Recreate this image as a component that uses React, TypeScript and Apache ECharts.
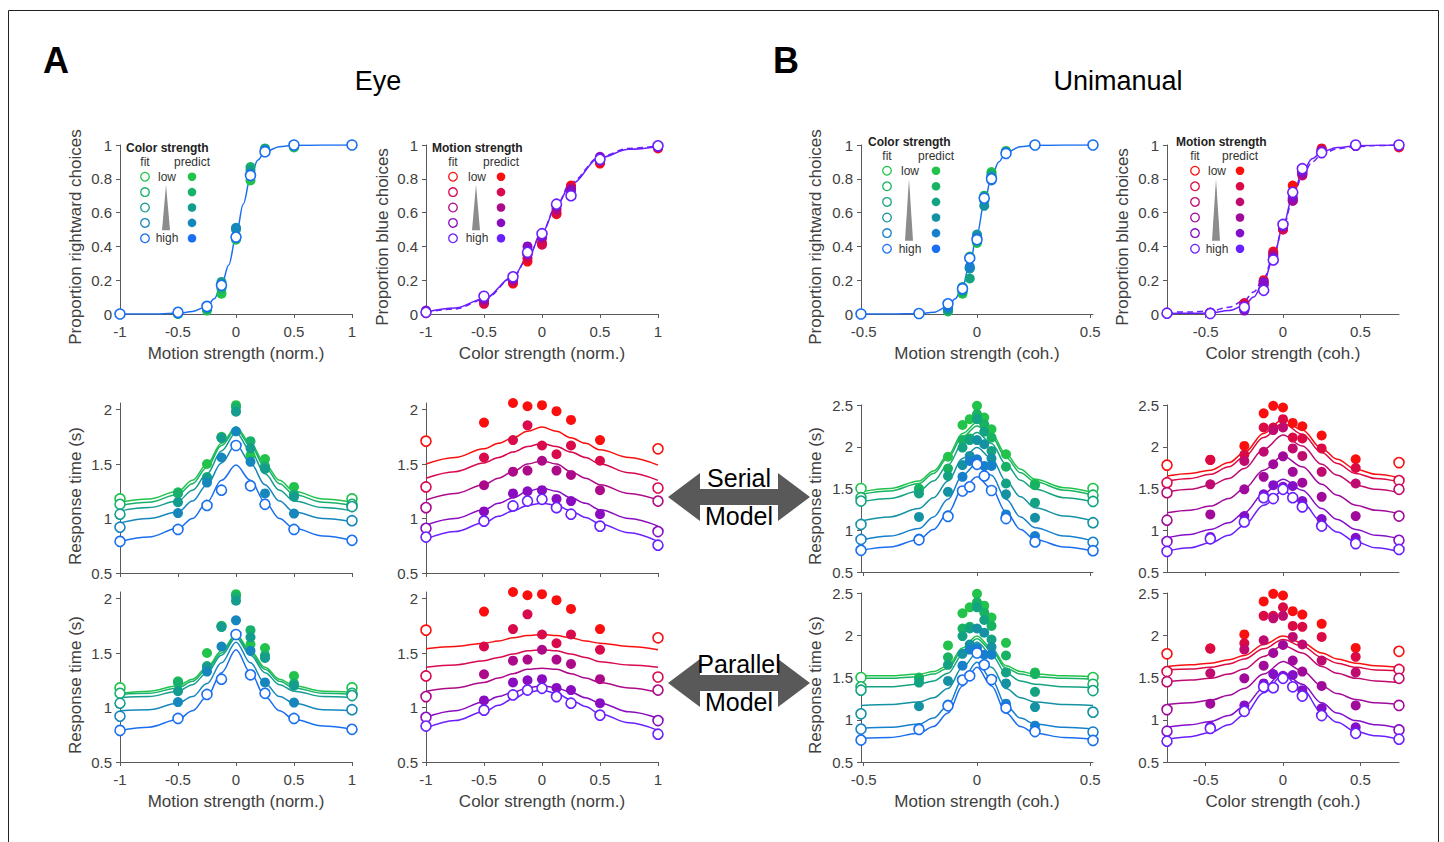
import React, { useEffect, useRef } from 'react';
import * as echarts from 'echarts';

const FONT = "'Liberation Sans', Arial, Helvetica, sans-serif";
const AXC = '#5a5a5a';
const TXC = '#404040';

// ---------- colours ----------
const GB5 = ['#21c34b', '#17b06c', '#149c8f', '#1687bd', '#1a6ff0'];
const GB6 = ['#21c34b', '#18b362', '#14a382', '#1492a3', '#1780cc', '#1a6ff0'];
const RP5 = ['#fa0f0f', '#d80a4c', '#ad0a8a', '#8a0cc0', '#6a1fff'];
const RP6 = ['#fa0f0f', '#dc0a44', '#bf0a70', '#a00a9a', '#840fc8', '#6a1fff'];

// ---------- x levels ----------
const XA = [-1, -0.5, -0.25, -0.125, 0, 0.125, 0.25, 0.5, 1];
const XBM = [-0.512, -0.256, -0.128, -0.064, -0.032, 0, 0.032, 0.064, 0.128, 0.256, 0.512];
const XBC = [-0.75, -0.47, -0.25, -0.125, -0.063, 0, 0.063, 0.125, 0.25, 0.47, 0.75];

// ---------- choice data ----------
const A_CH_MOT = [
  [0, 0.0, 0.02, 0.12, 0.44, 0.79, 0.97, 0.985, 1],
  [0, 0.002, 0.03, 0.15, 0.45, 0.87, 0.98, 0.99, 1],
  [0, 0.003, 0.035, 0.19, 0.5, 0.85, 0.975, 0.995, 1],
  [0, 0.004, 0.04, 0.17, 0.51, 0.83, 0.97, 1.0, 1],
  [0, 0.01, 0.045, 0.17, 0.455, 0.82, 0.96, 1.0, 1],
];
const A_CH_COL = [
  [0.005, 0.07, 0.18, 0.31, 0.42, 0.59, 0.76, 0.89, 0.98],
  [0.01, 0.06, 0.19, 0.33, 0.41, 0.6, 0.75, 0.9, 0.985],
  [0.015, 0.08, 0.2, 0.35, 0.45, 0.62, 0.74, 0.92, 0.99],
  [0.02, 0.09, 0.21, 0.4, 0.46, 0.64, 0.73, 0.93, 0.99],
  [0.01, 0.105, 0.22, 0.365, 0.475, 0.65, 0.7, 0.915, 0.995],
];
const B_CH_MOT = [
  [0, 0, 0.015, 0.12, 0.34, 0.42, 0.67, 0.84, 0.965, 1, 1],
  [0, 0, 0.02, 0.13, 0.27, 0.43, 0.7, 0.83, 0.96, 1, 1],
  [0, 0, 0.025, 0.16, 0.21, 0.46, 0.69, 0.82, 0.955, 1, 1],
  [0, 0, 0.03, 0.14, 0.27, 0.47, 0.64, 0.81, 0.96, 1, 1],
  [0, 0, 0.04, 0.155, 0.28, 0.45, 0.68, 0.79, 0.95, 1, 1],
  [0, 0.003, 0.06, 0.15, 0.33, 0.44, 0.685, 0.8, 0.95, 1, 1],
];
const B_CH_COL = [
  [0.005, 0.005, 0.06, 0.2, 0.37, 0.5, 0.76, 0.83, 0.98, 0.995, 0.985],
  [0.005, 0.006, 0.065, 0.19, 0.36, 0.5, 0.68, 0.84, 0.975, 0.995, 0.99],
  [0.005, 0.007, 0.05, 0.18, 0.35, 0.51, 0.67, 0.82, 0.97, 0.995, 0.995],
  [0.005, 0.008, 0.03, 0.17, 0.34, 0.52, 0.67, 0.83, 0.96, 0.995, 1],
  [0.005, 0.009, 0.02, 0.19, 0.33, 0.52, 0.69, 0.84, 0.96, 0.995, 1],
  [0.005, 0.003, 0.04, 0.14, 0.32, 0.53, 0.72, 0.86, 0.955, 1, 1],
];

// ---------- choice fits ----------
const CHX_A1 = [-1, -0.75, -0.5, -0.375, -0.25, -0.1875, -0.125, -0.0625, 0, 0.0625, 0.125, 0.1875, 0.25, 0.375, 0.5, 0.75, 1];
const CHY_A1 = [0, 0, 0.004, 0.015, 0.045, 0.09, 0.17, 0.29, 0.46, 0.65, 0.81, 0.91, 0.96, 0.99, 0.998, 1, 1];
const CHX_A2 = [-1, -0.75, -0.5, -0.25, -0.125, 0, 0.125, 0.25, 0.5, 0.75, 1];
const CHY_A2 = [0.012, 0.035, 0.09, 0.22, 0.33, 0.48, 0.64, 0.77, 0.925, 0.975, 0.99];
const CHY_A2_D = [0.01, 0.03, 0.085, 0.215, 0.33, 0.485, 0.645, 0.78, 0.93, 0.98, 0.995];
const CHX_B1 = [-0.512, -0.384, -0.256, -0.192, -0.128, -0.096, -0.064, -0.032, 0, 0.032, 0.064, 0.096, 0.128, 0.192, 0.256, 0.384, 0.512];
const CHY_B1 = [0, 0, 0.002, 0.01, 0.045, 0.09, 0.16, 0.3, 0.47, 0.66, 0.81, 0.9, 0.955, 0.99, 0.998, 1, 1];
const CHX_B2 = [-0.75, -0.6, -0.47, -0.35, -0.25, -0.19, -0.125, -0.063, 0, 0.063, 0.125, 0.19, 0.25, 0.35, 0.47, 0.6, 0.75];
const CHY_B2 = [0.003, 0.004, 0.006, 0.02, 0.05, 0.1, 0.19, 0.33, 0.52, 0.7, 0.84, 0.92, 0.96, 0.985, 0.995, 0.999, 1];
const CHY_B2_D = [0.01, 0.012, 0.018, 0.04, 0.08, 0.13, 0.21, 0.34, 0.51, 0.68, 0.82, 0.9, 0.945, 0.978, 0.99, 0.997, 1];

// ---------- RT data ----------
const A_RT_MOT = [
  [1.18, 1.24, 1.5, 1.75, 2.04, 1.58, 1.545, 1.29, 1.18],
  [1.13, 1.23, 1.38, 1.74, 2.02, 1.71, 1.48, 1.22, 1.13],
  [1.04, 1.15, 1.37, 1.74, 1.98, 1.645, 1.455, 1.2, 1.11],
  [0.92, 1.05, 1.33, 1.56, 1.8, 1.52, 1.23, 1.045, 0.98],
  [0.79, 0.9, 1.12, 1.26, 1.67, 1.3, 1.13, 0.9, 0.8],
];
const A_RT_COL = [
  [1.71, 1.88, 2.06, 2.03, 2.04, 1.985, 1.905, 1.72, 1.64],
  [1.29, 1.56, 1.72, 1.855, 1.67, 1.59, 1.67, 1.53, 1.28],
  [1.1, 1.305, 1.43, 1.44, 1.53, 1.44, 1.4, 1.26, 1.16],
  [0.91, 1.065, 1.23, 1.25, 1.26, 1.18, 1.16, 1.04, 0.88],
  [0.83, 0.976, 1.115, 1.16, 1.176, 1.1, 1.04, 0.93, 0.755],
];
const B_RT_MOT = [
  [1.5, 1.5, 1.88, 2.26, 2.33, 2.49, 2.35, 2.21, 1.91, 1.56, 1.5],
  [1.39, 1.49, 1.74, 2.08, 2.1, 2.39, 2.27, 2.11, 1.76, 1.54, 1.42],
  [1.35, 1.44, 1.65, 1.99, 2.08, 2.33, 2.18, 1.95, 1.56, 1.33, 1.345],
  [1.07, 1.16, 1.46, 1.78, 1.89, 2.08, 2.03, 1.86, 1.43, 1.15, 1.09],
  [0.89, 0.9, 1.18, 1.64, 1.83, 1.85, 1.77, 1.77, 1.19, 0.93, 0.855],
  [0.76, 0.886, 1.165, 1.47, 1.52, 1.79, 1.65, 1.476, 1.14, 0.86, 0.755],
];
const B_RT_COL = [
  [1.78, 1.845, 2.01, 2.4, 2.49, 2.47, 2.285, 2.245, 2.135, 1.85, 1.81],
  [1.57, 1.84, 1.905, 2.23, 2.23, 2.33, 2.11, 2.1, 1.98, 1.745, 1.595],
  [1.45, 1.55, 1.83, 1.94, 2.2, 2.23, 1.98, 1.89, 1.7, 1.56, 1.49],
  [1.12, 1.19, 1.49, 1.64, 1.79, 1.885, 1.7, 1.57, 1.4, 1.17, 1.17],
  [0.865, 0.92, 1.17, 1.43, 1.54, 1.52, 1.53, 1.35, 1.135, 0.91, 0.88],
  [0.746, 0.897, 1.1, 1.39, 1.38, 1.49, 1.39, 1.28, 1.05, 0.84, 0.77],
];

// ---------- RT fits ----------
const CX_A = [-1, -0.75, -0.5, -0.375, -0.25, -0.125, 0, 0.125, 0.25, 0.375, 0.5, 0.75, 1];
const CX_BM = [-0.512, -0.384, -0.256, -0.192, -0.128, -0.064, 0, 0.064, 0.128, 0.192, 0.256, 0.384, 0.512];
const CX_BC = [-0.75, -0.6, -0.47, -0.35, -0.25, -0.125, 0, 0.125, 0.25, 0.35, 0.47, 0.6, 0.75];

const SER_A_MOT = [
  [1.15, 1.18, 1.25, 1.35, 1.5, 1.69, 1.84, 1.69, 1.5, 1.35, 1.25, 1.18, 1.15],
  [1.12, 1.15, 1.22, 1.32, 1.47, 1.67, 1.82, 1.67, 1.47, 1.32, 1.22, 1.15, 1.12],
  [1.07, 1.1, 1.16, 1.26, 1.41, 1.62, 1.79, 1.62, 1.41, 1.26, 1.16, 1.1, 1.07],
  [0.96, 1.0, 1.06, 1.16, 1.31, 1.51, 1.68, 1.51, 1.31, 1.16, 1.06, 1.0, 0.97],
  [0.79, 0.83, 0.91, 1.0, 1.15, 1.35, 1.49, 1.35, 1.15, 1.0, 0.91, 0.84, 0.8],
];
const PAR_A_MOT = [
  [1.13, 1.15, 1.2, 1.26, 1.37, 1.52, 1.67, 1.52, 1.37, 1.26, 1.2, 1.15, 1.14],
  [1.12, 1.13, 1.18, 1.24, 1.35, 1.5, 1.66, 1.5, 1.35, 1.24, 1.18, 1.13, 1.12],
  [1.09, 1.1, 1.15, 1.21, 1.32, 1.48, 1.64, 1.48, 1.32, 1.21, 1.15, 1.1, 1.09],
  [0.97, 0.98, 1.04, 1.1, 1.22, 1.41, 1.6, 1.41, 1.22, 1.1, 1.04, 0.98, 0.97],
  [0.79, 0.82, 0.89, 0.97, 1.1, 1.32, 1.53, 1.32, 1.1, 0.97, 0.89, 0.83, 0.8],
];
const SER_A_COL = [
  [1.5, 1.56, 1.64, 1.69, 1.74, 1.8, 1.84, 1.8, 1.74, 1.69, 1.63, 1.56, 1.49],
  [1.37, 1.43, 1.51, 1.56, 1.61, 1.66, 1.69, 1.66, 1.61, 1.56, 1.5, 1.42, 1.35],
  [1.17, 1.23, 1.31, 1.37, 1.43, 1.5, 1.53, 1.5, 1.43, 1.37, 1.31, 1.23, 1.17],
  [0.94, 1.0, 1.08, 1.14, 1.19, 1.25, 1.28, 1.25, 1.19, 1.14, 1.08, 1.0, 0.93],
  [0.81, 0.88, 0.96, 1.02, 1.07, 1.12, 1.14, 1.12, 1.07, 1.01, 0.95, 0.87, 0.79],
];
const PAR_A_COL = [
  [1.54, 1.56, 1.59, 1.61, 1.64, 1.66, 1.67, 1.66, 1.64, 1.61, 1.59, 1.56, 1.53],
  [1.37, 1.39, 1.43, 1.46, 1.49, 1.52, 1.53, 1.52, 1.49, 1.46, 1.42, 1.39, 1.37],
  [1.15, 1.18, 1.23, 1.27, 1.31, 1.35, 1.36, 1.35, 1.31, 1.27, 1.23, 1.18, 1.14],
  [0.91, 0.97, 1.05, 1.1, 1.14, 1.18, 1.2, 1.18, 1.14, 1.09, 1.04, 0.96, 0.9],
  [0.81, 0.88, 0.96, 1.02, 1.08, 1.14, 1.16, 1.13, 1.07, 1.01, 0.94, 0.86, 0.79],
];
const SER_B_MOT = [
  [1.46, 1.5, 1.59, 1.71, 1.9, 2.16, 2.29, 2.16, 1.91, 1.73, 1.61, 1.51, 1.45],
  [1.43, 1.47, 1.56, 1.68, 1.87, 2.12, 2.25, 2.12, 1.87, 1.69, 1.58, 1.48, 1.42],
  [1.34, 1.38, 1.47, 1.59, 1.78, 2.04, 2.17, 2.04, 1.79, 1.6, 1.49, 1.39, 1.34],
  [1.11, 1.16, 1.26, 1.39, 1.59, 1.86, 1.99, 1.86, 1.59, 1.4, 1.27, 1.17, 1.11],
  [0.88, 0.93, 1.02, 1.16, 1.37, 1.66, 1.8, 1.66, 1.37, 1.16, 1.03, 0.93, 0.87],
  [0.76, 0.8, 0.89, 1.01, 1.21, 1.5, 1.64, 1.5, 1.22, 1.01, 0.89, 0.8, 0.75],
];
const PAR_B_MOT = [
  [1.52, 1.52, 1.54, 1.57, 1.64, 1.85, 1.99, 1.85, 1.64, 1.57, 1.54, 1.52, 1.51],
  [1.49, 1.49, 1.51, 1.54, 1.61, 1.82, 1.96, 1.82, 1.61, 1.54, 1.51, 1.49, 1.48],
  [1.39, 1.39, 1.42, 1.46, 1.55, 1.77, 1.92, 1.77, 1.55, 1.46, 1.42, 1.39, 1.38],
  [1.17, 1.18, 1.21, 1.26, 1.37, 1.62, 1.79, 1.62, 1.37, 1.26, 1.21, 1.18, 1.17],
  [0.9, 0.91, 0.95, 1.02, 1.17, 1.48, 1.68, 1.48, 1.17, 1.02, 0.95, 0.91, 0.89],
  [0.78, 0.79, 0.84, 0.92, 1.08, 1.4, 1.62, 1.4, 1.08, 0.92, 0.84, 0.79, 0.77],
];
const SER_B_COL = [
  [1.65, 1.68, 1.72, 1.81, 1.93, 2.16, 2.33, 2.2, 1.98, 1.85, 1.73, 1.67, 1.63],
  [1.59, 1.62, 1.67, 1.76, 1.88, 2.11, 2.28, 2.15, 1.93, 1.8, 1.68, 1.62, 1.58],
  [1.46, 1.49, 1.54, 1.62, 1.74, 1.97, 2.14, 2.01, 1.79, 1.66, 1.54, 1.49, 1.45],
  [1.21, 1.24, 1.29, 1.38, 1.5, 1.72, 1.89, 1.76, 1.55, 1.42, 1.3, 1.24, 1.2],
  [0.91, 0.95, 1.01, 1.09, 1.21, 1.44, 1.61, 1.48, 1.26, 1.13, 1.01, 0.94, 0.9],
  [0.75, 0.79, 0.85, 0.94, 1.06, 1.3, 1.47, 1.33, 1.1, 0.98, 0.86, 0.79, 0.74],
];
const PAR_B_COL = [
  [1.63, 1.65, 1.67, 1.71, 1.76, 1.89, 1.99, 1.91, 1.79, 1.72, 1.67, 1.64, 1.62],
  [1.59, 1.6, 1.62, 1.66, 1.72, 1.84, 1.95, 1.87, 1.74, 1.67, 1.62, 1.59, 1.58],
  [1.45, 1.47, 1.49, 1.54, 1.6, 1.75, 1.88, 1.79, 1.63, 1.55, 1.49, 1.46, 1.44],
  [1.18, 1.2, 1.23, 1.29, 1.37, 1.54, 1.69, 1.58, 1.4, 1.31, 1.24, 1.2, 1.18],
  [0.91, 0.94, 0.98, 1.05, 1.16, 1.38, 1.56, 1.42, 1.2, 1.08, 0.99, 0.94, 0.9],
  [0.77, 0.8, 0.85, 0.94, 1.06, 1.32, 1.53, 1.36, 1.09, 0.97, 0.86, 0.81, 0.77],
];

// ---------- tick labels ----------
const TICKS_NORM = [-1, -0.5, 0, 0.5, 1];
const TICKS_COH = [-0.5, 0, 0.5];
const TICKS_P = [0, 0.2, 0.4, 0.6, 0.8, 1];
const TICKS_RT_A = [0.5, 1, 1.5, 2];
const TICKS_RT_B = [0.5, 1, 1.5, 2, 2.5];

const X_NAMES = ['Motion strength (norm.)', 'Color strength (norm.)', 'Motion strength (coh.)', 'Color strength (coh.)'];

// ---------- layout ----------
const COLS = [
  { left: 120, width: 232, min: -1, max: 1, ticks: TICKS_NORM },
  { left: 426, width: 232, min: -1, max: 1, ticks: TICKS_NORM },
  { left: 861, width: 232, min: -0.512, max: 0.512, ticks: TICKS_COH },
  { left: 1167, width: 232, min: -0.75, max: 0.75, ticks: TICKS_COH },
];
const ROWS = [
  [{ top: 145, height: 169 }, { top: 145, height: 169 }, { top: 145, height: 169 }, { top: 145, height: 169 }],
  [{ top: 403, height: 170 }, { top: 403, height: 170 }, { top: 405, height: 167 }, { top: 405, height: 167 }],
  [{ top: 592, height: 170 }, { top: 592, height: 170 }, { top: 593, height: 169 }, { top: 593, height: 169 }],
];

function buildOption() {
  const grid: any[] = [];
  const xAxis: any[] = [];
  const yAxis: any[] = [];
  const series: any[] = [];

  for (let r = 0; r < 3; r++) {
    for (let c = 0; c < 4; c++) {
      const gi = r * 4 + c;
      const col = COLS[c];
      const rw = ROWS[r][c];
      grid.push({ left: col.left, top: rw.top, width: col.width, height: rw.height, containLabel: false, outerBoundsMode: 'none' });
      const labelX = r !== 1;
      xAxis.push({
        type: 'value', gridIndex: gi, min: col.min, max: col.max,
        axisLine: { show: true, onZero: false, lineStyle: { color: AXC, width: 1 } },
        axisTick: { show: true, inside: false, length: 4, customValues: col.ticks, lineStyle: { color: AXC } },
        axisLabel: { show: labelX, customValues: col.ticks, margin: 10, color: TXC, fontSize: 15, fontFamily: FONT },
        splitLine: { show: false },
        name: labelX ? X_NAMES[c] : '', nameLocation: 'middle', nameGap: 31,
        nameTextStyle: { color: TXC, fontSize: 17, fontFamily: FONT },
      });
      let ymin = 0, ymax = 1, yt = TICKS_P;
      if (r > 0) {
        if (c < 2) { ymin = 0.5; ymax = 2.06; yt = TICKS_RT_A; }
        else { ymin = 0.5; ymax = 2.5; yt = TICKS_RT_B; }
      }
      yAxis.push({
        type: 'value', gridIndex: gi, min: ymin, max: ymax,
        axisLine: { show: true, onZero: false, lineStyle: { color: AXC, width: 1 } },
        axisTick: { show: true, inside: false, length: 4, customValues: yt, lineStyle: { color: AXC } },
        axisLabel: { show: true, customValues: yt, margin: 8, color: TXC, fontSize: 15, fontFamily: FONT },
        splitLine: { show: false },
      });
    }
  }

  const addLine = (gi: number, xs: number[], ys: number[], color: string, dashed = false) => {
    series.push({
      type: 'line', xAxisIndex: gi, yAxisIndex: gi, data: xs.map((x, i) => [x, ys[i]]),
      smooth: 0.35, smoothMonotone: 'x', showSymbol: false, symbol: 'none', silent: true, z: 2,
      lineStyle: { color, width: 1.5, type: dashed ? [6, 4] : 'solid' },
    });
  };
  const addPoints = (gi: number, X: number[], data: number[][], colors: string[], rt: boolean) => {
    const xmax = Math.max(...X.map(Math.abs));
    data.forEach((ys, k) => {
      const last = k === data.length - 1;
      const filled: number[][] = [];
      const open: number[][] = [];
      X.forEach((x, i) => {
        const isOpen = last || (rt && Math.abs(x) === xmax);
        (isOpen ? open : filled).push([x, ys[i]]);
      });
      series.push({
        type: 'scatter', xAxisIndex: gi, yAxisIndex: gi, data: filled, symbol: 'circle', symbolSize: 10,
        silent: true, z: 3, itemStyle: { color: colors[k], borderWidth: 0, opacity: 1 },
      });
      series.push({
        type: 'scatter', xAxisIndex: gi, yAxisIndex: gi, data: open, symbol: 'circle', symbolSize: 10,
        silent: true, z: 4 + k * 0.01, itemStyle: { color: '#ffffff', borderColor: colors[k], borderWidth: 1.6, opacity: 1 },
      });
    });
  };

  // Row 0: choices
  addLine(0, CHX_A1, CHY_A1, GB5[4]);
  addPoints(0, XA, A_CH_MOT, GB5, false);
  addLine(1, CHX_A2, CHY_A2_D, RP5[4], true);
  addLine(1, CHX_A2, CHY_A2, RP5[4]);
  addPoints(1, XA, A_CH_COL, RP5, false);
  addLine(2, CHX_B1, CHY_B1, GB6[5]);
  addPoints(2, XBM, B_CH_MOT, GB6, false);
  addLine(3, CHX_B2, CHY_B2_D, RP6[5], true);
  addLine(3, CHX_B2, CHY_B2, RP6[5]);
  addPoints(3, XBC, B_CH_COL, RP6, false);

  // Rows 1 & 2: RT (serial, parallel)
  const rtPanels = [
    { c: 0, X: XA, CX: CX_A, data: A_RT_MOT, fits: [SER_A_MOT, PAR_A_MOT], colors: GB5 },
    { c: 1, X: XA, CX: CX_A, data: A_RT_COL, fits: [SER_A_COL, PAR_A_COL], colors: RP5 },
    { c: 2, X: XBM, CX: CX_BM, data: B_RT_MOT, fits: [SER_B_MOT, PAR_B_MOT], colors: GB6 },
    { c: 3, X: XBC, CX: CX_BC, data: B_RT_COL, fits: [SER_B_COL, PAR_B_COL], colors: RP6 },
  ];
  rtPanels.forEach((p) => {
    [1, 2].forEach((r) => {
      const gi = r * 4 + p.c;
      p.fits[r - 1].forEach((ys, k) => addLine(gi, p.CX, ys, p.colors[k]));
      addPoints(gi, p.X, p.data, p.colors, true);
    });
  });

  // ---------- graphics ----------
  const g: any[] = [];
  const txt = (x: number, y: number, text: string, size: number, opts: any = {}) => {
    g.push({
      type: 'text', x, y, rotation: opts.rotation || 0, silent: true, z: opts.z || 10,
      style: {
        text, fill: opts.fill || TXC, fontSize: size, fontFamily: FONT, fontWeight: opts.bold ? 'bold' : 'normal',
        textAlign: opts.align || 'center', textVerticalAlign: 'middle',
      },
    });
  };
  // frame
  g.push({ type: 'rect', shape: { x: 8.5, y: 10.5, width: 1430, height: 850 }, style: { fill: 'none', stroke: '#222', lineWidth: 1 }, silent: true });
  // panel letters & titles
  txt(56, 60, 'A', 36, { bold: true, fill: '#000' });
  txt(786, 60, 'B', 36, { bold: true, fill: '#000' });
  txt(378, 81, 'Eye', 27, { fill: '#000' });
  txt(1118, 81, 'Unimanual', 27, { fill: '#000' });

  // y-axis titles
  const yTitleX = [75, 382, 815, 1122];
  txt(yTitleX[0], 237, 'Proportion rightward choices', 17, { rotation: Math.PI / 2 });
  txt(yTitleX[1], 237, 'Proportion blue choices', 17, { rotation: Math.PI / 2 });
  txt(yTitleX[2], 237, 'Proportion rightward choices', 17, { rotation: Math.PI / 2 });
  txt(yTitleX[3], 237, 'Proportion blue choices', 17, { rotation: Math.PI / 2 });
  txt(yTitleX[0], 496, 'Response time (s)', 17, { rotation: Math.PI / 2 });
  txt(yTitleX[2], 496, 'Response time (s)', 17, { rotation: Math.PI / 2 });
  txt(yTitleX[0], 685, 'Response time (s)', 17, { rotation: Math.PI / 2 });
  txt(yTitleX[2], 685, 'Response time (s)', 17, { rotation: Math.PI / 2 });

  // legends
  const legend = (titleX: number, titleY: number, title: string, fitX: number, predX: number, midX: number,
    rowY0: number, step: number, colors: string[]) => {
    txt(titleX, titleY, title, 12, { bold: true, align: 'left', fill: '#222' });
    txt(fitX, titleY + 14, 'fit', 12, { fill: '#333' });
    txt(predX, titleY + 14, 'predict', 12, { fill: '#333' });
    colors.forEach((c, k) => {
      const y = rowY0 + k * step;
      g.push({ type: 'circle', shape: { cx: fitX, cy: y, r: 4.3 }, style: { fill: '#fff', stroke: c, lineWidth: 1.3 }, silent: true, z: 10 });
      g.push({ type: 'circle', shape: { cx: predX, cy: y, r: 4.3 }, style: { fill: c }, silent: true, z: 10 });
    });
    const yEnd = rowY0 + (colors.length - 1) * step;
    txt(midX, rowY0, 'low', 12, { fill: '#333' });
    txt(midX, yEnd, 'high', 12, { fill: '#333' });
    g.push({
      type: 'polygon', silent: true, z: 10,
      shape: { points: [[midX - 1, rowY0 + 8], [midX - 5, yEnd - 8], [midX + 3, yEnd - 8]] },
      style: { fill: '#8c8c8c' },
    });
  };
  legend(126, 148, 'Color strength', 145, 192, 167, 176.7, 15.4, GB5);
  legend(432, 148, 'Motion strength', 453, 501, 477, 176.7, 15.4, RP5);
  legend(868, 142, 'Color strength', 887, 936, 910, 170.7, 15.6, GB6);
  legend(1176, 142, 'Motion strength', 1195, 1240, 1217, 170.7, 15.6, RP6);

  // double arrows
  const arrow = (cy: number, top: string, bottom: string) => {
    g.push({
      type: 'polygon', silent: true, z: 5,
      shape: {
        points: [[668, cy], [700, cy - 24], [700, cy - 8], [778, cy - 8], [778, cy - 24], [810, cy],
          [778, cy + 24], [778, cy + 8], [700, cy + 8], [700, cy + 24]],
      },
      style: { fill: '#595959' },
    });
    txt(739, cy - 19, top, 25, { fill: '#000', z: 7 });
    txt(739, cy + 19, bottom, 25, { fill: '#000', z: 7 });
  };
  arrow(497, 'Serial', 'Model');
  arrow(683, 'Parallel', 'Model');

  return {
    animation: false,
    backgroundColor: '#ffffff',
    textStyle: { fontFamily: FONT },
    grid, xAxis, yAxis, series, graphic: g,
  };
}

export default function App() {
  const ref = useRef<HTMLDivElement>(null);
  useEffect(() => {
    const chart = echarts.init(ref.current as HTMLDivElement, null, { renderer: 'svg' });
    chart.setOption(buildOption() as any);
    return () => chart.dispose();
  }, []);
  return <div ref={ref} style={{ position: 'fixed', left: 0, top: 0, width: 1444, height: 842, background: '#fff' }} />;
}
